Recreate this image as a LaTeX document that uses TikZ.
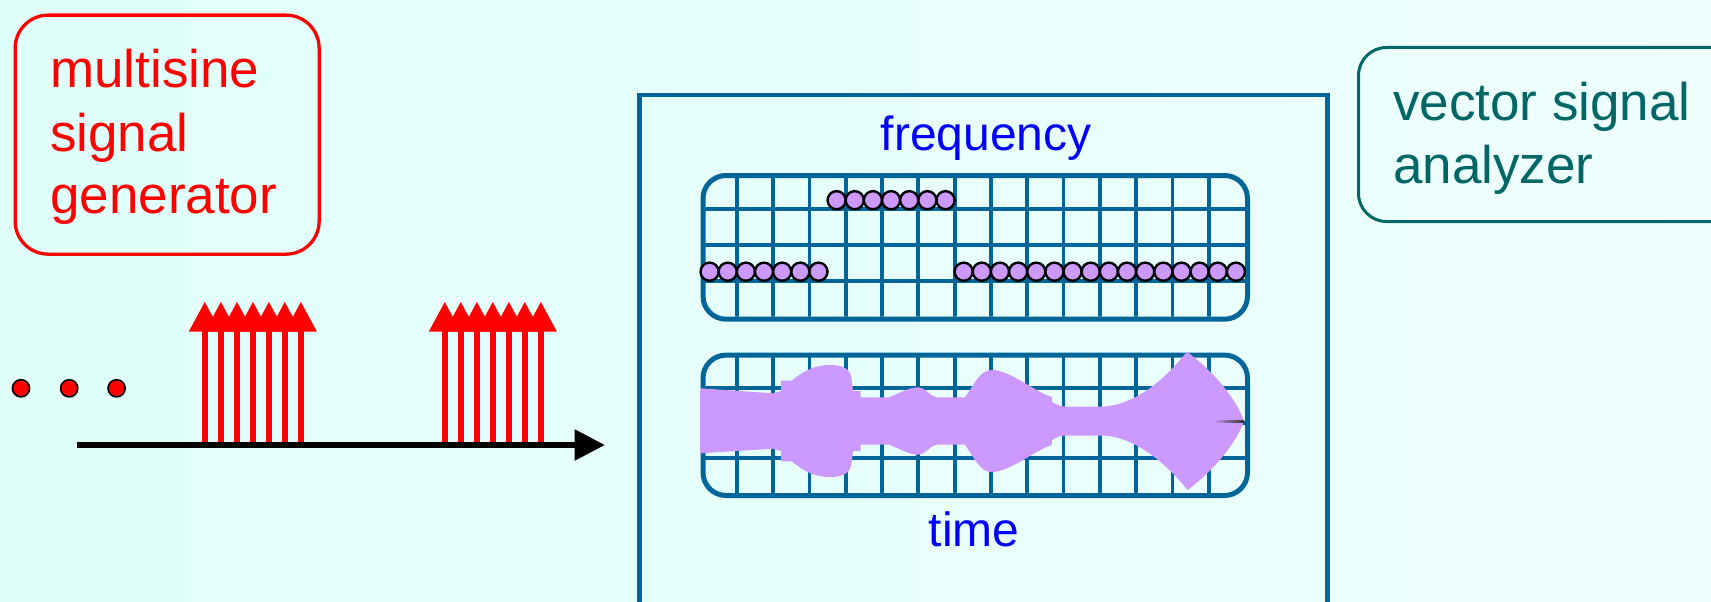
\documentclass[tikz,border=0pt]{standalone}
\usepackage{fontspec}
\setmainfont{Liberation Sans}
\usetikzlibrary{arrows.meta}
\definecolor{bgA}{RGB}{224,255,250}
\definecolor{bgB}{RGB}{238,255,253}
\definecolor{gridblue}{RGB}{0,102,153}
\definecolor{tealsix}{RGB}{0,102,102}
\definecolor{lav}{RGB}{204,153,255}
\begin{document}
\begin{tikzpicture}[x=1pt,y=-1pt,
  bigtext/.style={inner sep=0pt, anchor=base west, font=\fontsize{53pt}{60pt}\selectfont},
  midtext/.style={inner sep=0pt, anchor=base west, font=\fontsize{48pt}{56pt}\selectfont, text=blue},
  gridline/.style={draw=gridblue, line width=3.8pt},
  gridbox/.style={draw=gridblue, line width=5pt, rounded corners=23pt, minimum width=544.5pt, anchor=north west, inner sep=0pt},
  pulse/.style={draw=red, line width=5.5pt, -{Triangle[width=30.6pt,length=30pt]}},
  sdot/.style={fill=lav, draw=black, line width=2.4pt},
  bdot/.style={fill=red, draw=black, line width=1.6pt}]
\useasboundingbox (0,0) rectangle (1711,602);
\clip (0,0) rectangle (1711,602);
\shade[left color=bgA, right color=bgB] (0,0) rectangle (1711,602);

% generator
\node[draw=red, line width=3.3pt, rounded corners=33pt, minimum width=304pt, minimum height=239pt, anchor=north west, inner sep=0pt] (genbox) at (13.5,13.5) {};
\node[bigtext, text=red] (gen1) at (50,88) {multisine};
\node[bigtext, text=red] (gen2) at (50,151.5) {signal};
\node[bigtext, text=red] (gen3) at (50,213) {generator};

% analyzer
\node[draw=tealsix, line width=3pt, rounded corners=28pt, minimum width=420pt, minimum height=174pt, anchor=north west, inner sep=0pt] (vsabox) at (1357,46) {};
\node[bigtext, text=tealsix] (vsa1) at (1393,120) {vector signal};
\node[bigtext, text=tealsix] (vsa2) at (1393,183) {analyzer};

% pulses
\foreach \x in {204.8,220.9,237.0,253.0,268.9,284.8,300.9} \draw[pulse] (\x,445) -- (\x,301.7);
\foreach \x in {444.8,460.8,476.9,492.8,508.9,524.8,540.9} \draw[pulse] (\x,445) -- (\x,301.7);
\coordinate (axL) at (77,445);
\coordinate (axR) at (605,445);
\draw[line width=6pt, -{Triangle[width=30pt,length=30.5pt]}] (axL) -- (axR);
\filldraw[bdot] (21,388.3) circle[radius=8.6pt];
\filldraw[bdot] (69.2,388.3) circle[radius=8.6pt];
\filldraw[bdot] (116.6,388.3) circle[radius=8.6pt];

% instrument frame
\node[draw=gridblue, line width=4.5pt, minimum width=687.6pt, minimum height=560pt, anchor=north west, inner sep=0pt] (frame) at (637.4,92.7) {};
\node[midtext] (freqlbl) at (880.5,150) {frequency};
\node[midtext] (timelbl) at (928.5,546.7) {time};

% frequency grid
\begin{scope}
\clip[rounded corners=23pt] (700.5,173) rectangle (1245,316.7);
\foreach \i in {1,...,14} \draw[gridline] ({700.5+36.3*\i},173) -- ({700.5+36.3*\i},316.7);
\foreach \j in {1,2,3} \draw[gridline] (700.5,{173+35.9*\j}) -- (1245,{173+35.9*\j});
\end{scope}
\node[gridbox, minimum height=143.7pt] (fgrid) at (700.5,173) {};
\foreach \k in {0,...,6} \filldraw[sdot] ({700.5+18.15*\k+9.07},271.7) circle[radius=9.07pt];
\foreach \k in {14,...,29} \filldraw[sdot] ({700.5+18.15*\k+9.07},271.7) circle[radius=9.07pt];
\foreach \k in {7,...,13} \filldraw[sdot] ({700.5+18.15*\k+9.07},200.2) circle[radius=9.07pt];

% time grid
\begin{scope}
\clip[rounded corners=23pt] (700.5,352.6) rectangle (1245,493);
\foreach \i in {1,...,14} \draw[gridline] ({700.5+36.3*\i},352.6) -- ({700.5+36.3*\i},493);
\foreach \j in {1,2,3} \draw[gridline] (700.5,{352.6+35.1*\j}) -- (1245,{352.6+35.1*\j});
\end{scope}
\node[gridbox, minimum height=140.4pt] (tgrid) at (700.5,352.6) {};

% waveform
\fill[lav] (700,388.3) -- (773,393.3) -- (781.2,391) -- (781.2,380.7) -- (791.5,380.7)
  .. controls (805,370) and (815,365) .. (830,365)
  .. controls (845,365) and (850,370) .. (851.5,378) -- (853,391) -- (860.5,391) -- (860.5,397.3) -- (889,397.3)
  .. controls (900,393) and (910,387) .. (918.6,387.3)
  .. controls (926,387.5) and (930,397) .. (937,397.3) -- (965,397.3)
  .. controls (975,383) and (980,370) .. (992,370)
  .. controls (1010,370) and (1035,392) .. (1051.8,397) -- (1051.8,401.7)
  .. controls (1055,404) and (1060,406.5) .. (1064.8,406.5) -- (1105,406.5)
  .. controls (1135,404) and (1165,380) .. (1186.8,351.7)
  .. controls (1212,370) and (1236,398) .. (1244,421)
  .. controls (1236,444) and (1212,472) .. (1187.5,490)
  .. controls (1165,462) and (1135,438) .. (1105,435.5) -- (1064.8,435.5)
  .. controls (1060,435.5) and (1055,438) .. (1051.8,440.3) -- (1051.8,445)
  .. controls (1035,450) and (1010,472) .. (992,472)
  .. controls (980,472) and (975,459) .. (965,444.7) -- (937,444.7)
  .. controls (930,445) and (926,454.5) .. (918.6,454.7)
  .. controls (910,455) and (900,449) .. (889,444.7) -- (860.5,444.7) -- (860.5,451) -- (853,451) -- (851.5,464)
  .. controls (850,472) and (845,477) .. (830,477)
  .. controls (815,477) and (805,472) .. (791.5,461.3) -- (781.2,461.3) -- (781.2,451) -- (773,448.7) -- (700,453.3) -- cycle;
\shade[left color=lav, right color=black!80] (1213,420) rectangle (1244,422);
\end{tikzpicture}
\end{document}
